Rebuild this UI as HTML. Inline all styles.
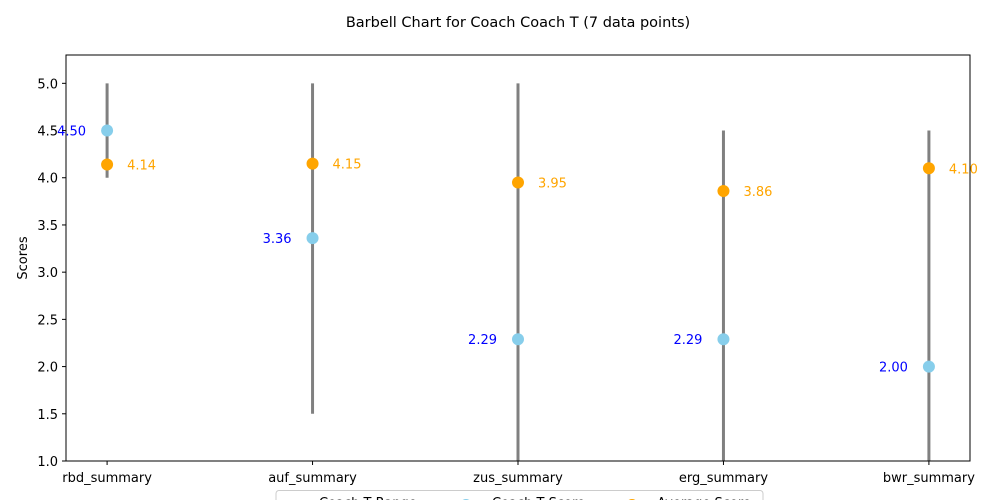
<!DOCTYPE html>
<html><head><meta charset="utf-8"><style>
html,body{margin:0;background:#fff;width:1000px;height:500px;overflow:hidden;}
svg{display:block;font-family:"DejaVu Sans","Liberation Sans",sans-serif;}
</style></head><body>
<svg id="chart" width="1000" height="500">
<text x="518" y="27" font-size="14.5" text-anchor="middle">Barbell Chart for Coach Coach T (7 data points)</text>
<g id="plot"></g>
</svg>
<script>
const categories=["rbd_summary","auf_summary","zus_summary","erg_summary","bwr_summary"];
const rangeMin=[4.0,1.5,0.0,0.0,0.0];
const rangeMax=[5.0,5.0,5.0,4.5,4.5];
const coachScores=[4.50,3.36,2.29,2.29,2.00];
const avgScores=[4.14,4.15,3.95,3.86,4.10];
const yTicks=[1.0,1.5,2.0,2.5,3.0,3.5,4.0,4.5,5.0];

const L=66,R=970,T=55,B=461,yMin=1.0,yMax=5.3;
const xs=i=>L+(i+0.2)/4.4*(R-L);
const ys=v=>B-(v-yMin)/(yMax-yMin)*(B-T);
const ns="http://www.w3.org/2000/svg";
const g=document.getElementById('plot');
function mk(tag,attrs,parent){const e=document.createElementNS(ns,tag);for(const k in attrs)e.setAttribute(k,attrs[k]);(parent||g).appendChild(e);return e;}
const clip=mk('clipPath',{id:'c'});mk('rect',{x:L,y:T,width:R-L,height:B-T},clip);
const marks=mk('g',{'clip-path':'url(#c)'});
categories.forEach((c,i)=>{
  const x=xs(i);
  const ln=mk('line',{x1:x,x2:x,y1:ys(rangeMin[i]),y2:ys(rangeMax[i]),stroke:'#808080','stroke-width':3},marks);
  
  
  const p1=mk('circle',{cx:x,cy:ys(coachScores[i]),r:6,fill:'#87ceeb'},marks);
  
  
  const p2=mk('circle',{cx:x,cy:ys(avgScores[i]),r:6,fill:'#ffa500'},marks);
  
  
  const t1=mk('text',{x:x-21,y:ys(coachScores[i])+5,'font-size':13,fill:'#0000ff','text-anchor':'end'});
  t1.textContent=coachScores[i].toFixed(2);
  
  
  const t2=mk('text',{x:x+20,y:ys(avgScores[i])+5,'font-size':13,fill:'#ffa500'});
  t2.textContent=avgScores[i].toFixed(2);
  
  
  mk('line',{x1:x,x2:x,y1:B,y2:B+4,stroke:'#000'});
  const xl=mk('text',{x:x,y:B+21,'font-size':13,'text-anchor':'middle'});
  xl.textContent=c;
  
  
});
yTicks.forEach(v=>{
  const y=ys(v);
  mk('line',{x1:L-4,x2:L,y1:y,y2:y,stroke:'#000'});
  const t=mk('text',{x:L-8,y:y+5,'font-size':13,'text-anchor':'end'});
  t.textContent=v.toFixed(1);
  
  
});
const fr=mk('rect',{x:L,y:T,width:R-L,height:B-T,fill:'none',stroke:'#000','stroke-width':1});


const yt=mk('text',{x:27,y:258,'font-size':13,'text-anchor':'middle',transform:'rotate(-90 27 258)'});
yt.textContent='Scores';


// legend (clipped at frame bottom)
const lclip=mk('clipPath',{id:'lc'});mk('rect',{x:0,y:0,width:1000,height:500},lclip);
const lg=mk('g',{'clip-path':'url(#lc)'});


mk('rect',{x:276,y:490.5,width:487,height:20,rx:3,fill:'#fff',stroke:'#ccc'},lg);
mk('line',{x1:286,x2:312,y1:505,y2:505,stroke:'#808080','stroke-width':3},lg);
const lt1=mk('text',{x:319,y:507,'font-size':13},lg);lt1.textContent='Coach T Range';
mk('circle',{cx:466,cy:505,r:6,fill:'#87ceeb'},lg);
const lt2=mk('text',{x:492,y:507,'font-size':13},lg);lt2.textContent='Coach T Score';
mk('circle',{cx:632,cy:505,r:6,fill:'#ffa500'},lg);
const lt3=mk('text',{x:657,y:507,'font-size':13},lg);lt3.textContent='Average Score';
</script>
</body></html>
